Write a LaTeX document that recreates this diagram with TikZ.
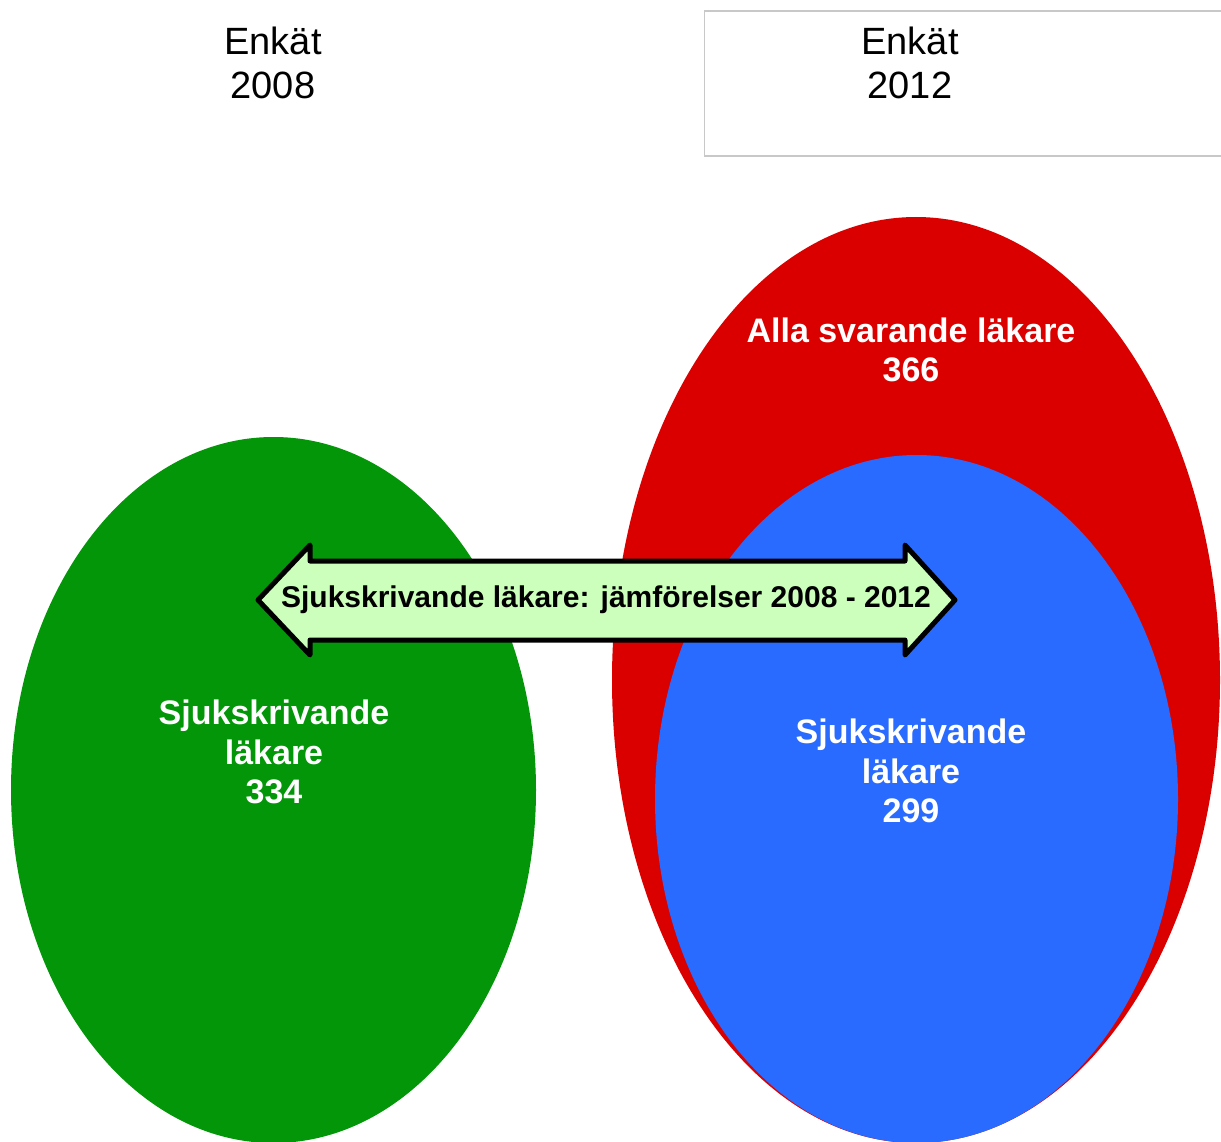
\documentclass[tikz,border=0pt]{standalone}
\usepackage{fontspec}
\setmainfont{Liberation Sans}
\definecolor{grn}{RGB}{2,150,8}
\definecolor{rd}{RGB}{218,0,0}
\definecolor{blu}{RGB}{42,107,255}
\definecolor{arrfill}{RGB}{204,255,187}
\definecolor{boxgray}{RGB}{200,200,200}
\begin{document}
\begin{tikzpicture}[x=1pt,y=-1pt,
  whitelabel/.style={text=white,font=\fontsize{34}{39.5}\selectfont\bfseries,align=center},
  titlelabel/.style={text=black,font=\fontsize{38}{44}\selectfont,align=center},
  arrowshape/.style={draw=black,line width=5pt,line join=round,fill=arrfill}]
\useasboundingbox (0,0) rectangle (1221,1142);
% header box
\draw[boxgray,line width=1.2pt] (1230,11) -- (704.5,11) -- (704.5,156) -- (1230,156);
\node[titlelabel] (t2008) at (273,63) {Enkät\\2008};
\node[titlelabel] (t2012) at (910,63) {Enkät\\2012};
% ellipses
\fill[grn] (273.5,790) ellipse [x radius=262.5, y radius=353];
\fill[rd] (916,680) ellipse [x radius=304, y radius=463];
\fill[blu] (916.5,799) ellipse [x radius=261.5, y radius=344];
% double arrow
\draw[arrowshape] (258,600) -- (310,545) -- (310,561) -- (905,561) -- (905,545) -- (955,600)
  -- (905,655) -- (905,640) -- (310,640) -- (310,655) -- cycle;
\node[font=\fontsize{30}{34}\selectfont\bfseries] (cmp) at (606,600) {Sjukskrivande läkare: jämförelser 2008 - 2012};
% labels
\node[whitelabel] (alla) at (911,350) {Alla svarande läkare\\366};
\node[whitelabel] (s08) at (274,752) {Sjukskrivande\\läkare\\334};
\node[whitelabel] (s12) at (911,771) {Sjukskrivande\\läkare\\299};
\end{tikzpicture}
\end{document}
